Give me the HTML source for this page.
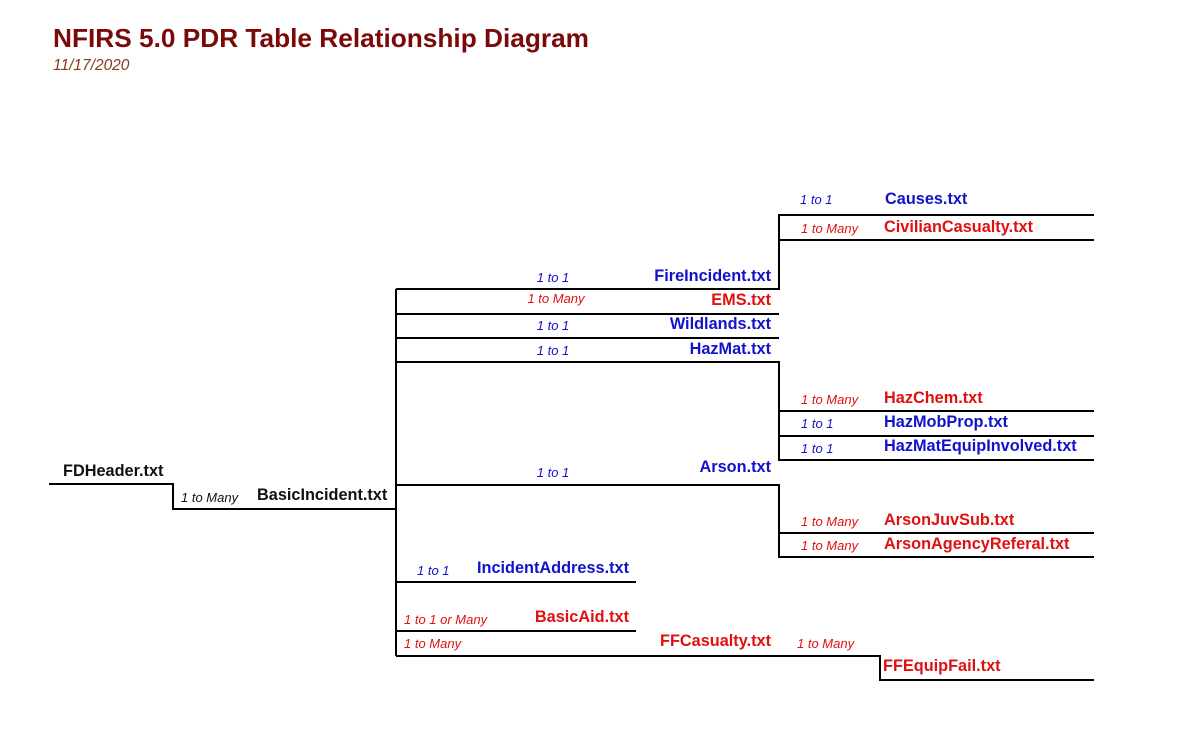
<!DOCTYPE html>
<html><head><meta charset="utf-8"><style>
html,body{margin:0;padding:0;background:#fff;}
svg{display:block;}
.t{font-family:"Liberation Sans",Arial,sans-serif;font-weight:bold;font-size:16.3px;}
.c{font-family:"Liberation Sans",Arial,sans-serif;font-style:italic;font-size:13px;}
.b{fill:#1212cc;} .r{fill:#e01010;} .k{fill:#111;}
</style></head><body>
<svg width="1186" height="754" viewBox="0 0 1186 754" xmlns="http://www.w3.org/2000/svg">
<text x="53" y="47" font-family="Liberation Sans, Arial, sans-serif" font-weight="bold" font-size="26" fill="#7a0a0a" textLength="536" lengthAdjust="spacingAndGlyphs">NFIRS 5.0 PDR Table Relationship Diagram</text>
<text x="53" y="70" font-family="Liberation Sans, Arial, sans-serif" font-style="italic" font-size="15.5" fill="#8a3a1a">11/17/2020</text>
<g stroke="#000" stroke-width="2" fill="none">
<path d="M49 484H173V509H396"/>
<path d="M396 289V656"/>
<path d="M396 289H779V215H1094"/>
<path d="M779 240H1094"/>
<path d="M396 314H779M396 338H779"/>
<path d="M396 362H779V460H1094M779 411H1094M779 436H1094"/>
<path d="M396 485H779V557H1094M779 533H1094"/>
<path d="M396 582H636M396 631H636"/>
<path d="M396 656H880V680H1094"/>
</g>
<text class="t k" x="63" y="476">FDHeader.txt</text>
<text class="c k" x="181" y="502">1 to Many</text>
<text class="t k" x="257" y="500">BasicIncident.txt</text>
<g text-anchor="end" class="t">
<text class="b" x="771" y="281">FireIncident.txt</text>
<text class="r" x="771" y="305">EMS.txt</text>
<text class="b" x="771" y="329">Wildlands.txt</text>
<text class="b" x="771" y="354">HazMat.txt</text>
<text class="b" x="771" y="472">Arson.txt</text>
<text class="r" x="629" y="622">BasicAid.txt</text>
<text class="r" x="771" y="646">FFCasualty.txt</text>
</g>
<g text-anchor="middle" class="c">
<text class="b" x="553" y="282">1 to 1</text>
<text class="r" x="556" y="303">1 to Many</text>
<text class="b" x="553" y="330">1 to 1</text>
<text class="b" x="553" y="355">1 to 1</text>
<text class="b" x="553" y="477">1 to 1</text>
</g>
<g class="c">
<text class="b" x="800" y="204">1 to 1</text>
<text class="r" x="801" y="233">1 to Many</text>
<text class="r" x="801" y="404">1 to Many</text>
<text class="b" x="801" y="428">1 to 1</text>
<text class="b" x="801" y="453">1 to 1</text>
<text class="r" x="801" y="526">1 to Many</text>
<text class="r" x="801" y="550">1 to Many</text>
<text class="b" x="417" y="575">1 to 1</text>
<text class="r" x="404" y="624">1 to 1 or Many</text>
<text class="r" x="404" y="648">1 to Many</text>
<text class="r" x="797" y="648">1 to Many</text>
</g>
<g class="t">
<text class="b" x="885" y="204">Causes.txt</text>
<text class="r" x="884" y="232">CivilianCasualty.txt</text>
<text class="r" x="884" y="403">HazChem.txt</text>
<text class="b" x="884" y="427">HazMobProp.txt</text>
<text class="b" x="884" y="451">HazMatEquipInvolved.txt</text>
<text class="r" x="884" y="525">ArsonJuvSub.txt</text>
<text class="r" x="884" y="549">ArsonAgencyReferal.txt</text>
<text class="b" x="477" y="573">IncidentAddress.txt</text>
<text class="r" x="883" y="671">FFEquipFail.txt</text>
</g>
</svg>
</body></html>
